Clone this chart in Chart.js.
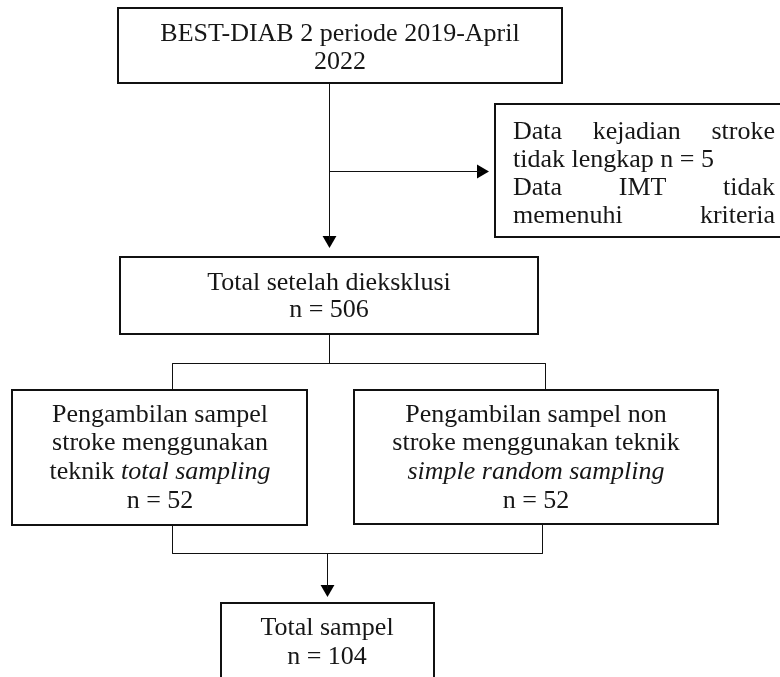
<!DOCTYPE html>
<html>
<head>
<meta charset="utf-8">
<script src="https://cdn.jsdelivr.net/npm/chart.js@4.4.0/dist/chart.umd.min.js"></script>
<style>
  html, body { margin: 0; padding: 0; background: #fff; overflow: hidden; }
  #wadah { width: 780px; height: 677px; }
</style>
</head>
<body>
<div id="wadah"><canvas id="bagan" width="780" height="677"></canvas></div>
<script>
// Isi bagan alur
const sumberData = ["BEST-DIAB 2 periode 2019-April", "2022"];
const jumlahTidakLengkap = 5;
const alasanEksklusi = ["Data kejadian stroke", "tidak lengkap n = " + jumlahTidakLengkap, "Data IMT tidak", "memenuhi kriteria"];
const totalSetelahEksklusi = 506;
const jumlahKelompok = [52, 52];
const totalSampel = 104;

// Tata letak (koordinat sumbu 0-780 x 0-677)
const kotak = [
  [118, 8, 562, 83],     // sumber data
  [495, 104, 800, 237],  // eksklusi
  [120, 257, 538, 334],  // setelah eksklusi
  [12, 390, 307, 525],   // stroke
  [354, 390, 718, 524],  // non stroke
  [221, 603, 434, 700],  // total sampel
];
const garis = [
  [[329.5, 83], [329.5, 240]],
  [[329.5, 171.5], [481, 171.5]],
  [[329.5, 334], [329.5, 363.5]],
  [[172.5, 363.5], [545.5, 363.5]],
  [[172.5, 363.5], [172.5, 390]],
  [[545.5, 363.5], [545.5, 390]],
  [[172.5, 525], [172.5, 553.5]],
  [[542.5, 524], [542.5, 553.5]],
  [[172.5, 553.5], [542.5, 553.5]],
  [[327.5, 553.5], [327.5, 589]],
];
const panah = [
  { x: 329.5, y: 240, putar: 180 },
  { x: 481, y: 171.5, putar: 90 },
  { x: 327.5, y: 589, putar: 180 },
];

const HURUF = "26px 'Liberation Serif', 'Times New Roman', serif";
const HURUF_MIRING = "italic 26px 'Liberation Serif', 'Times New Roman', serif";

// blok teks: baris = daftar potongan [teks, miring]
const blokTeks = [
  { cx: 340, ys: [34, 62], baris: sumberData.map((t) => [[t, false]]) },
  { cx: 329, ys: [283, 310], baris: [[["Total setelah dieksklusi", false]], [["n = " + totalSetelahEksklusi, false]]] },
  { cx: 160, ys: [415, 443, 472, 501], baris: [
    [["Pengambilan sampel", false]],
    [["stroke menggunakan", false]],
    [["teknik ", false], ["total sampling", true]],
    [["n = " + jumlahKelompok[0], false]],
  ] },
  { cx: 536, ys: [415, 443, 472, 501], baris: [
    [["Pengambilan sampel non", false]],
    [["stroke menggunakan teknik", false]],
    [["simple random sampling", true]],
    [["n = " + jumlahKelompok[1], false]],
  ] },
  { cx: 327, ys: [628, 657], baris: [[["Total sampel", false]], [["n = " + totalSampel, false]]] },
];
const blokRata = { kiri: 513, kanan: 775, ys: [132, 160, 188, 216], baris: alasanEksklusi, rata: [true, false, true, true] };

const datasets = [];
kotak.forEach(([x1, y1, x2, y2]) => {
  datasets.push({
    data: [{ x: x1, y: y1 }, { x: x2, y: y1 }, { x: x2, y: y2 }, { x: x1, y: y2 }, { x: x1, y: y1 }],
    showLine: true, borderColor: "#111", borderWidth: 2, pointRadius: 0,
    borderJoinStyle: "miter", borderCapStyle: "square", clip: false,
  });
});
garis.forEach((g) => {
  datasets.push({
    data: g.map(([x, y]) => ({ x, y })),
    showLine: true, borderColor: "#111", borderWidth: 1, pointRadius: 0, clip: false,
  });
});
datasets.push({
  data: panah.map((p) => ({ x: p.x, y: p.y })),
  showLine: false, pointStyle: "triangle", pointRadius: 8,
  rotation: panah.map((p) => p.putar),
  backgroundColor: "#000", borderColor: "#000", borderWidth: 0, clip: false,
});

function tulisBaris(ctx, potongan, cx, y) {
  let total = 0;
  potongan.forEach(([t, m]) => { ctx.font = m ? HURUF_MIRING : HURUF; total += ctx.measureText(t).width; });
  let x = cx - total / 2;
  potongan.forEach(([t, m]) => {
    ctx.font = m ? HURUF_MIRING : HURUF;
    ctx.fillText(t, x, y);
    x += ctx.measureText(t).width;
  });
}

const pluginTeks = {
  id: "teks",
  afterDatasetsDraw(chart) {
    const { ctx, scales: { x, y } } = chart;
    ctx.save();
    ctx.fillStyle = "#161616";
    ctx.textBaseline = "middle";
    ctx.textAlign = "left";
    blokTeks.forEach((b) => {
      b.baris.forEach((p, i) => tulisBaris(ctx, p, x.getPixelForValue(b.cx), y.getPixelForValue(b.ys[i])));
    });
    // teks rata kiri-kanan di kotak eksklusi
    ctx.font = HURUF;
    const kiri = x.getPixelForValue(blokRata.kiri);
    const kanan = x.getPixelForValue(blokRata.kanan);
    blokRata.baris.forEach((t, i) => {
      const py = y.getPixelForValue(blokRata.ys[i]);
      if (!blokRata.rata[i]) { ctx.fillText(t, kiri, py); return; }
      const kata = t.split(" ");
      const lebar = kata.reduce((s, k) => s + ctx.measureText(k).width, 0);
      const jarak = (kanan - kiri - lebar) / (kata.length - 1);
      let px = kiri;
      kata.forEach((k) => { ctx.fillText(k, px, py); px += ctx.measureText(k).width + jarak; });
    });
    ctx.restore();
  },
};

new Chart(document.getElementById("bagan"), {
  type: "scatter",
  data: { datasets },
  options: {
    responsive: false,
    animation: false,
    events: [],
    layout: { padding: 0, autoPadding: false },
    plugins: { legend: { display: false }, tooltip: { enabled: false } },
    scales: {
      x: { type: "linear", min: 0, max: 780, display: false },
      y: { type: "linear", min: 0, max: 677, reverse: true, display: false },
    },
  },
  plugins: [pluginTeks],
});
</script>
</body>
</html>
